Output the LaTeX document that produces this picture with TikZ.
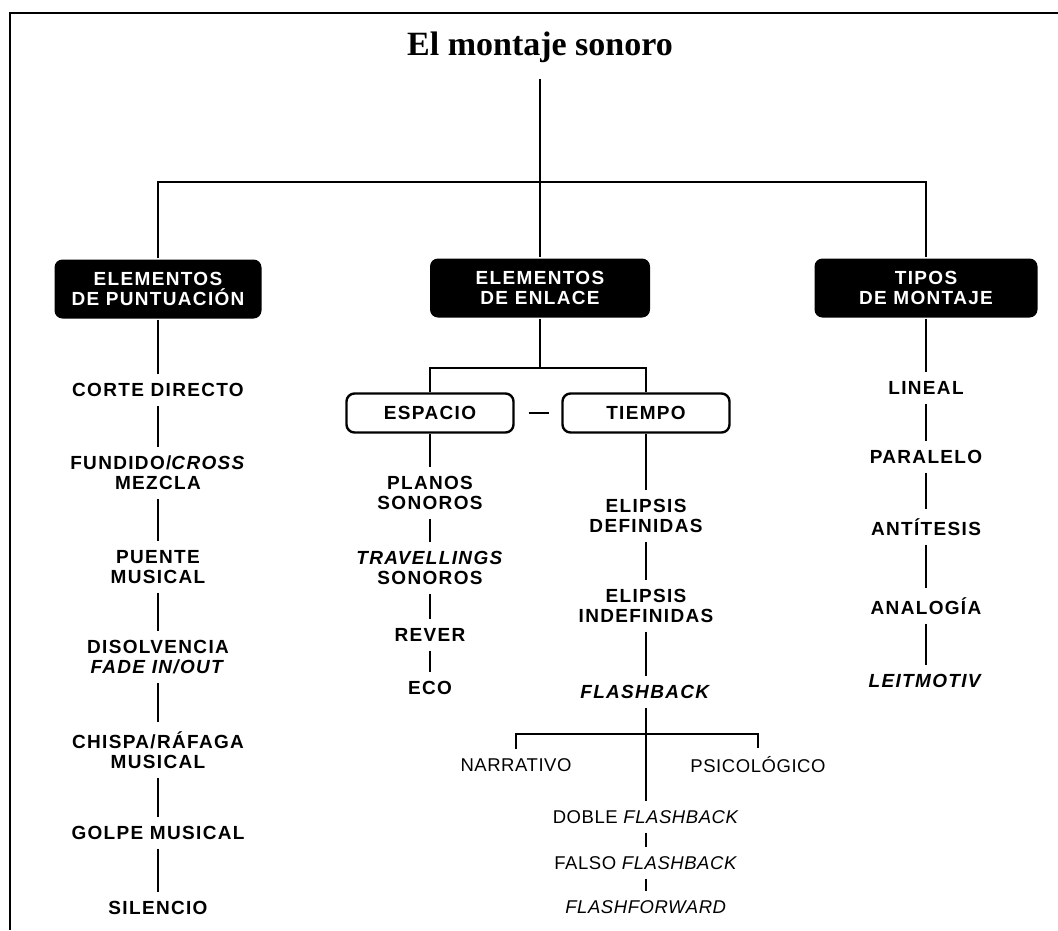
\documentclass[tikz,border=0pt]{standalone}
\usepackage{fontspec}
\setmainfont{Liberation Serif}
\newfontfamily\labfont[LetterSpace=7]{Liberation Sans}
\newfontfamily\labfontn[LetterSpace=3]{Liberation Sans}
\newfontfamily\hdfont{Liberation Serif}
\usetikzlibrary{positioning}
\tikzset{
  head/.style={rounded corners=8pt,fill=black,text=white,align=center,
    font=\labfont\bfseries\fontsize{19}{20}\selectfont,
    minimum height=59pt,inner sep=0pt},
  sub/.style={rounded corners=8pt,draw,line width=2.4pt,
    font=\labfont\bfseries\fontsize{19}{20}\selectfont,
    minimum width=167pt,minimum height=39pt,inner sep=0pt},
  item/.style={align=center,inner sep=0pt,outer sep=9pt,
    font=\labfont\bfseries\fontsize{19}{20}\selectfont},
  itemn/.style={align=center,inner sep=0pt,outer sep=9pt,
    font=\labfontn\fontsize{18.5}{20}\selectfont}
}
\begin{document}
\begin{tikzpicture}[x=1pt,y=-1pt,line width=2.4pt]
\useasboundingbox (0,0) rectangle (1058,930);
\draw (1058,13) -- (10,13) -- (10,930);
\path
(540,47)  node[font=\hdfont\bfseries\fontsize{34}{38}\selectfont,inner sep=0pt] (T) {El montaje sonoro}
(158,289) node[head,minimum width=207pt] (P) {ELEMENTOS\\DE PUNTUACIÓN}
(540,288) node[head,minimum width=220pt] (E) {ELEMENTOS\\DE ENLACE}
(926,288) node[head,minimum width=223pt] (M) {TIPOS\\DE MONTAJE}
(430,413) node[sub] (S)  {ESPACIO}
(646,413) node[sub] (Ti) {TIEMPO};
\coordinate (s0) at (540,182);
\coordinate (s1) at (540,368);
\coordinate (s2) at (646,734);
% puntuacion
\path
(158,390) node[item] (p1) {CORTE DIRECTO}
(158,473) node[item] (p2) {FUNDIDO/\textit{CROSS}\\MEZCLA}
(158,567) node[item] (p3) {PUENTE\\MUSICAL}
(158,657) node[item] (p4) {DISOLVENCIA\\\textit{FADE IN/OUT}}
(158,750) node[item] (p5) {CHISPA/RÁFAGA\\MUSICAL}
(158,833) node[item] (p6) {GOLPE MUSICAL}
(158,908) node[item] (p7) {SILENCIO};
% espacio / tiempo
\path
(430,493) node[item] (e1) {PLANOS\\SONOROS}
(430,568) node[item] (e2) {\textit{TRAVELLINGS}\\SONOROS}
(430,635) node[item] (e3) {REVER}
(430,688) node[item] (e4) {ECO}
(646,516) node[item] (t1) {ELIPSIS\\DEFINIDAS}
(646,606) node[item] (t2) {ELIPSIS\\INDEFINIDAS}
(646,692) node[item] (t3) {\textit{FLASHBACK}}
(516,765) node[itemn] (n1) {NARRATIVO}
(758,765) node[itemn] (n2) {PSICOLÓGICO}
(646,817) node[itemn] (d1) {DOBLE \textit{FLASHBACK}}
(646,863) node[itemn] (d2) {FALSO \textit{FLASHBACK}}
(646,907) node[itemn] (d3) {\textit{FLASHFORWARD}};
% tipos
\path
(926,388) node[item] (m1) {LINEAL}
(926,457) node[item] (m2) {PARALELO}
(926,527) node[item] (m3) {ANTÍTESIS}
(926,606) node[item] (m4) {ANALOGÍA}
(926,681) node[item] (m5) {\textit{LEITMOTIV}};
\draw[shorten <=15pt] (T) -- (E);
\draw (P.north) |- (s0) -| (M.north);
\draw (E) -- (s1);
\draw (S.north) |- (s1) -| (Ti.north);
\draw[shorten <=14pt,shorten >=12pt] (S.east) -- (Ti.west);
\foreach \a/\b in {P/p1,p1/p2,p2/p3,p3/p4,p4/p5,p5/p6,p6/p7,
  S/e1,e1/e2,e2/e3,e3/e4,Ti/t1,t1/t2,t2/t3,t3/d1,d1/d2,d2/d3,
  M/m1,m1/m2,m2/m3,m3/m4,m4/m5}
  \draw (\a) -- (\b);
\draw (n1.north) |- (s2) -| (n2.north);
\end{tikzpicture}
\end{document}
